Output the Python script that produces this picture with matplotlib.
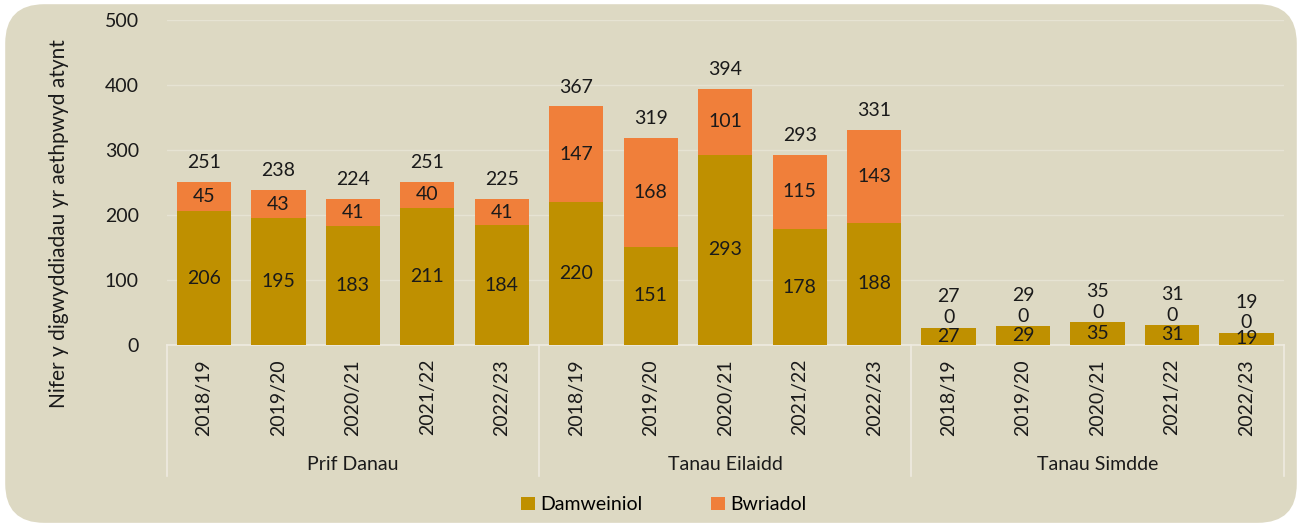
import matplotlib.pyplot as plt
from matplotlib.patches import FancyBboxPatch
import numpy as np

plt.rcParams['font.family'] = ['Lato', 'DejaVu Sans']

groups = ["Prif Danau", "Tanau Eilaidd", "Tanau Simdde"]
years = ["2018/19", "2019/20", "2020/21", "2021/22", "2022/23"]
damweiniol = [206, 195, 183, 211, 184, 220, 151, 293, 178, 188, 27, 29, 35, 31, 19]
bwriadol = [45, 43, 41, 40, 41, 147, 168, 101, 115, 143, 0, 0, 0, 0, 0]

bg = '#DDD9C3'
gold = '#BF9000'
orange = '#F07F3A'
txt = '#1a1a1a'
fs = 14

fig = plt.figure(figsize=(13.02, 5.26), dpi=100)
fig.patch.set_facecolor('white')
fig.patches.append(FancyBboxPatch((0.004, 0.006), 0.992, 0.986, boxstyle='round,pad=0,rounding_size=0.03',
                                  transform=fig.transFigure, facecolor=bg, edgecolor='none', zorder=-10,
                                  mutation_aspect=1302 / 526))
ax = fig.add_axes([0.128, 0.344, 0.858, 0.618])
ax.set_facecolor(bg)

x = np.arange(len(damweiniol))
totals = [d + b for d, b in zip(damweiniol, bwriadol)]
w = 0.73
ax.bar(x, damweiniol, width=w, color=gold, zorder=3, label='Damweiniol')
ax.bar(x, bwriadol, width=w, bottom=damweiniol, color=orange, zorder=3, label='Bwriadol')

for i in x:
    d, b, t = damweiniol[i], bwriadol[i], totals[i]
    ax.text(i, d / 2, str(d), ha='center', va='center', fontsize=fs, color=txt, zorder=5)
    if b > 0:
        ax.text(i, d + b / 2, str(b), ha='center', va='center', fontsize=fs, color=txt, zorder=5)
        ax.annotate(str(t), (i, t), xytext=(0, 14), textcoords='offset points', ha='center',
                    va='center', fontsize=fs, color=txt)
    else:
        ax.annotate(str(b), (i, t), xytext=(0, 7), textcoords='offset points', ha='center',
                    va='center', fontsize=fs, color=txt)
        ax.annotate(str(t), (i, t), xytext=(0, 22), textcoords='offset points', ha='center',
                    va='center', fontsize=fs, color=txt)

ax.set_ylim(0, 500)
ax.set_xlim(-0.5, len(x) - 0.5)
ax.set_yticks(range(0, 501, 100))
ax.tick_params(axis='y', length=0, labelsize=fs, labelcolor=txt, pad=20)
ax.set_xticks(x)
ax.set_xticklabels(years * len(groups), rotation=90, fontsize=fs, color=txt)
ax.tick_params(axis='x', length=0, pad=10)
ax.grid(axis='y', color='#E6E3D3', linewidth=1, zorder=0)
for s in ['top', 'right', 'left']:
    ax.spines[s].set_visible(False)
ax.spines['bottom'].set_color('#EEEBE0')
ax.spines['bottom'].set_linewidth(1.2)

trans = ax.get_xaxis_transform()
for sep in [-0.5, 4.5, 9.5, 14.5]:
    ax.plot([sep, sep], [0, -0.403], transform=trans, clip_on=False, color='#EEEBE0', linewidth=1.2)
for g, name in enumerate(groups):
    ax.text(g * 5 + 2, -0.366, name, transform=trans, ha='center', va='center', fontsize=fs, color=txt)

ax.set_ylabel('Nifer y digwyddiadau yr aethpwyd atynt', fontsize=15, color=txt)
ax.yaxis.set_label_coords(-0.087, 0.375)

fig.legend(loc='center', bbox_to_anchor=(0.51, 0.04), ncol=2, frameon=False, fontsize=fs,
           handlelength=0.7, handleheight=0.7, columnspacing=3.5, handletextpad=0.3)

fig.savefig('out.png', dpi=100, facecolor=fig.get_facecolor())
